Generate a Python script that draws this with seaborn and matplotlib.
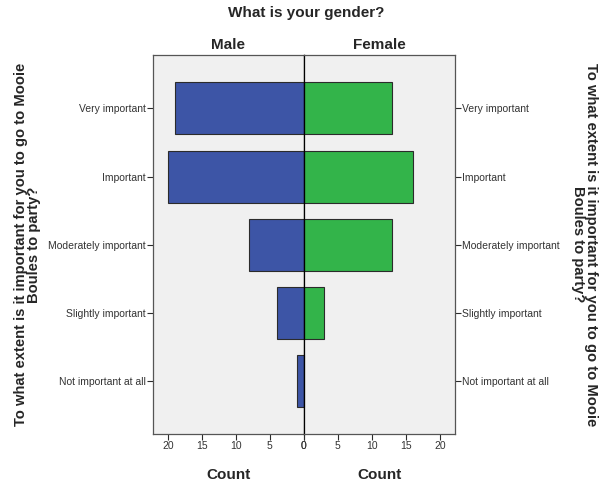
"""
Population-pyramid style bar chart: importance of going to Mooie Boules by gender.
"""

import matplotlib
matplotlib.use("Agg")
import matplotlib.pyplot as plt
import seaborn as sns

# ── Data ──────────────────────────────────────────────────────────────────────
categories = ["Very important", "Important", "Moderately important",
              "Slightly important", "Not important at all"]
male_counts = [19, 20, 8, 4, 1]
female_counts = [13, 16, 13, 3, 0]
x_ticks = [0, 5, 10, 15, 20]

BLUE = "#3d55a6"
GREEN = "#33b44a"
EDGE = "#2b2b2b"
PANEL = "#f0f0f0"
TICKTXT = "#333333"

sns.set_style("white")
plt.rcParams["font.family"] = ["Liberation Sans", "DejaVu Sans"]

fig = plt.figure(figsize=(6.04, 4.88), dpi=100)
left, right, mid = 153 / 604, 455 / 604, 303.7 / 604
bottom, top = 1 - 434 / 488, 1 - 55 / 488
ax_m = fig.add_axes([left, bottom, mid - left, top - bottom])
ax_f = fig.add_axes([mid, bottom, right - mid, top - bottom])

sns.barplot(x=male_counts, y=categories, ax=ax_m, color=BLUE, orient="h",
            width=0.76, edgecolor=EDGE, linewidth=0.8, saturation=1)
sns.barplot(x=female_counts, y=categories, ax=ax_f, color=GREEN, orient="h",
            width=0.76, edgecolor=EDGE, linewidth=0.8, saturation=1)

for ax in (ax_m, ax_f):
    ax.set_facecolor(PANEL)
    ax.set_ylim(4.77, -0.78)
    ax.set_xticks(x_ticks)
    ax.set_xticklabels([str(v) for v in x_ticks])
    ax.tick_params(axis="both", direction="out", length=4, width=0.8,
                   colors=EDGE, labelcolor=TICKTXT, labelsize=7.5, pad=1,
                   bottom=True)
    for sp in ax.spines.values():
        sp.set_color("#555555")
        sp.set_linewidth(0.9)
    ax.set_xlabel("Count", fontsize=11, fontweight="bold", labelpad=12)

ax_m.set_xlim(22.2, 0)
ax_f.set_xlim(0, 22.2)
ax_f.spines["left"].set_color("black")
ax_m.spines["right"].set_color("black")
ax_m.tick_params(axis="y", left=True, right=False)
ax_f.yaxis.tick_right()
ax_f.tick_params(axis="y", left=False, right=True)

qlabel = "To what extent is it important for you to go to Mooie\nBoules to party?"
ax_m.set_ylabel(qlabel, fontsize=10.6, fontweight="bold", labelpad=5,
                linespacing=0.95)
ax_f.yaxis.set_label_position("right")
ax_f.set_ylabel(qlabel, fontsize=10.6, fontweight="bold", rotation=270,
                labelpad=28, linespacing=0.95)

ax_m.set_title("Male", fontsize=11, fontweight="bold", pad=4)
ax_f.set_title("Female", fontsize=11, fontweight="bold", pad=4)
fig.text(306 / 604, 1 - 13 / 488, "What is your gender?", ha="center",
         va="center", fontsize=11, fontweight="bold")

fig.savefig("out.png", dpi=100)
